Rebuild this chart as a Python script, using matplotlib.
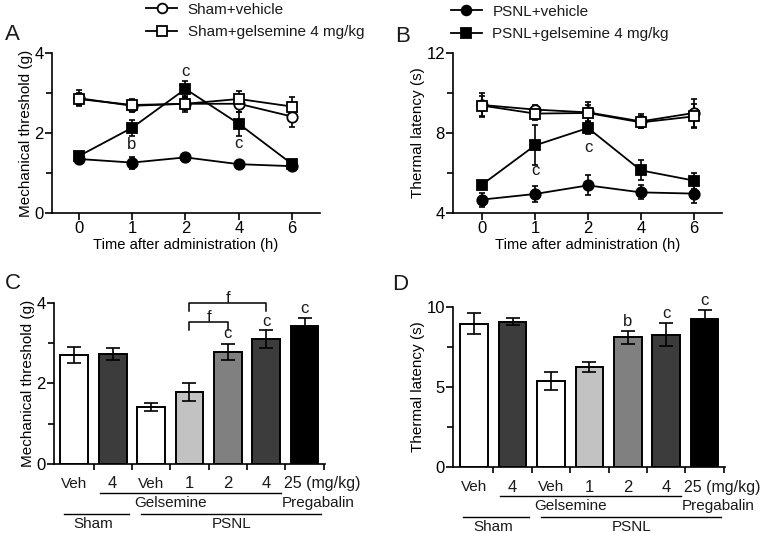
import numpy as np
import matplotlib.pyplot as plt
from matplotlib.lines import Line2D

plt.rcParams['font.family'] = ['Liberation Sans', 'DejaVu Sans']
plt.rcParams['text.color'] = '#1a1a1a'

# ---- time course data (panels A, B) ----
times = ['0', '1', '2', '4', '6']

mech_sham_veh = [2.87, 2.68, 2.73, 2.73, 2.41]
mech_sham_veh_err = [0.2, 0.15, 0.15, 0.2, 0.25]
mech_sham_gel = [2.85, 2.70, 2.73, 2.85, 2.66]
mech_sham_gel_err = [0.15, 0.15, 0.2, 0.2, 0.25]
mech_psnl_veh = [1.35, 1.26, 1.39, 1.22, 1.17]
mech_psnl_veh_err = [0.1, 0.15, 0.05, 0.05, 0.1]
mech_psnl_gel = [1.42, 2.13, 3.10, 2.23, 1.22]
mech_psnl_gel_err = [0.1, 0.2, 0.2, 0.3, 0.1]

therm_sham_veh = [9.40, 9.17, 9.03, 8.58, 9.00]
therm_sham_veh_err = [0.6, 0.25, 0.5, 0.35, 0.7]
therm_sham_gel = [9.37, 8.97, 9.00, 8.53, 8.83]
therm_sham_gel_err = [0.5, 0.3, 0.4, 0.3, 0.6]
therm_psnl_veh = [4.67, 4.95, 5.38, 5.03, 4.97]
therm_psnl_veh_err = [0.35, 0.4, 0.5, 0.35, 0.45]
therm_psnl_gel = [5.42, 7.38, 8.25, 6.13, 5.62]
therm_psnl_gel_err = [0.15, 1.0, 0.3, 0.5, 0.4]

# ---- bar data (panels C, D) ----
bar_labels = ['Veh', '4', 'Veh', '1', '2', '4']
bar_colors = ['white', '#3c3c3c', 'white', '#c2c2c2', '#808080', '#3c3c3c', 'black']
mech_bars = [2.70, 2.74, 1.41, 1.78, 2.78, 3.10, 3.44]
mech_bars_err = [0.2, 0.15, 0.1, 0.22, 0.2, 0.22, 0.18]
therm_bars = [8.96, 9.10, 5.39, 6.27, 8.11, 8.28, 9.23]
therm_bars_err = [0.65, 0.2, 0.55, 0.3, 0.4, 0.7, 0.6]

fig = plt.figure(figsize=(7.71, 5.33), dpi=100)

axA = fig.add_axes([0.0674, 0.6004, 0.3476, 0.3002])
axB = fig.add_axes([0.5875, 0.6004, 0.3489, 0.3002])
axC = fig.add_axes([0.0700, 0.1295, 0.3515, 0.3020])
axD = fig.add_axes([0.5875, 0.1238, 0.3528, 0.3000])

FS = 11      # axis labels / words
TS = 12      # tick labels / annotations


def style(ax):
    for s in ['top', 'right']:
        ax.spines[s].set_visible(False)
    for s in ['left', 'bottom']:
        ax.spines[s].set_linewidth(1.2)
    ax.tick_params(which='both', direction='out', width=1.2, labelsize=TS, pad=0.8)
    ax.tick_params(which='major', length=5)
    ax.tick_params(which='minor', length=4)


def line_panel(ax, series, ylim, yticks, yminor, ylabel):
    x = np.arange(len(times))
    for y, err, marker, face in series:
        ax.errorbar(x, y, yerr=err, fmt='-', color='black', lw=1.3, ecolor='black',
                    elinewidth=1.2, capsize=2.5, capthick=1.2, zorder=2)
        ax.plot(x, y, linestyle='none', marker=marker, markersize=7.5,
                markerfacecolor=face, markeredgecolor='black', markeredgewidth=1.3, zorder=3)
    ax.set_xticks(x)
    ax.set_xticklabels(times)
    ax.set_xlim(-0.5, 4.52)
    ax.set_ylim(*ylim)
    ax.set_yticks(yticks)
    ax.set_yticks(yminor, minor=True)
    ax.set_ylabel(ylabel, fontsize=FS, labelpad=1)
    ax.set_xlabel('Time after administration (h)', fontsize=10.6, labelpad=1.5)
    style(ax)


line_panel(axA, [(mech_sham_veh, mech_sham_veh_err, 'o', 'white'),
                 (mech_sham_gel, mech_sham_gel_err, 's', 'white'),
                 (mech_psnl_veh, mech_psnl_veh_err, 'o', 'black'),
                 (mech_psnl_gel, mech_psnl_gel_err, 's', 'black')],
           (0, 4), [0, 2, 4], [1, 3], 'Mechanical threshold (g)')
axA.text(1, 1.72, 'b', ha='center', va='center', fontsize=TS)
axA.text(2, 3.54, 'c', ha='center', va='center', fontsize=TS)
axA.text(3, 1.74, 'c', ha='center', va='center', fontsize=TS)

line_panel(axB, [(therm_sham_veh, therm_sham_veh_err, 'o', 'white'),
                 (therm_sham_gel, therm_sham_gel_err, 's', 'white'),
                 (therm_psnl_veh, therm_psnl_veh_err, 'o', 'black'),
                 (therm_psnl_gel, therm_psnl_gel_err, 's', 'black')],
           (4, 12), [4, 8, 12], [6, 10], 'Thermal latency (s)')
axB.set_xlim(-0.55, 4.53)
axB.text(1, 6.13, 'c', ha='center', va='center', fontsize=TS)
axB.text(2, 7.25, 'c', ha='center', va='center', fontsize=TS)


def proxy(marker, face):
    return Line2D([0], [0], color='black', lw=1.3, marker=marker, markersize=7,
                  markerfacecolor=face, markeredgecolor='black', markeredgewidth=1.3)


leg_kw = dict(loc='upper left', frameon=False, fontsize=11, handlelength=2.0,
              handletextpad=0.7, labelspacing=0.55, borderpad=0, borderaxespad=0)
fig.legend([proxy('o', 'white'), proxy('s', 'white')],
           ['Sham+vehicle', 'Sham+gelsemine 4 mg/kg'],
           bbox_to_anchor=(0.190, 0.995), **leg_kw)
fig.legend([proxy('o', 'black'), proxy('s', 'black')],
           ['PSNL+vehicle', 'PSNL+gelsemine 4 mg/kg'],
           bbox_to_anchor=(0.585, 0.991), **leg_kw)


def bar_panel(ax, vals, errs, ylim, yticks, yminor, ylabel):
    x = np.arange(len(vals))
    ax.bar(x, vals, width=0.72, color=bar_colors, edgecolor='black', linewidth=1.4, zorder=2)
    ax.errorbar(x, vals, yerr=errs, fmt='none', ecolor='black', elinewidth=1.2,
                capsize=5, capthick=1.2, zorder=3)
    ax.set_xlim(-0.53, 6.53)
    ax.set_ylim(*ylim)
    ax.set_yticks(yticks)
    ax.set_yticks(yminor, minor=True)
    ax.set_xticks([])
    ax.set_xticks(np.arange(0.5, 7, 1), minor=True)
    ax.set_xticklabels([], minor=True)
    ax.set_ylabel(ylabel, fontsize=FS, labelpad=1)
    style(ax)
    ax.tick_params(axis='x', which='minor', length=4)

    h = ax.get_position().height * fig.get_figheight() * fig.dpi
    tr = ax.get_xaxis_transform()

    def fy(px):
        return -px / h

    for i, lab in enumerate(bar_labels):
        ax.text(i, fy(20), lab, transform=tr, ha='center', va='center',
                fontsize=TS if lab.isdigit() else FS)
    ax.text(5.47, fy(20), '25 (mg/kg)', transform=tr, ha='left', va='center', fontsize=11.5)
    ax.plot([0.68, 5.38], [fy(29), fy(29)], transform=tr, color='black', lw=1.0, clip_on=False)
    ax.text(2.5, fy(39), 'Gelsemine', transform=tr, ha='center', va='center', fontsize=FS)
    ax.text(6.35, fy(39), 'Pregabalin', transform=tr, ha='center', va='center', fontsize=FS)
    ax.plot([-0.28, 1.42], [fy(50), fy(50)], transform=tr, color='black', lw=1.0, clip_on=False)
    ax.plot([1.73, 6.43], [fy(50), fy(50)], transform=tr, color='black', lw=1.0, clip_on=False)
    ax.text(0.5, fy(60), 'Sham', transform=tr, ha='center', va='center', fontsize=FS)
    ax.text(4.1, fy(60), 'PSNL', transform=tr, ha='center', va='center', fontsize=FS)


bar_panel(axC, mech_bars, mech_bars_err, (0, 4), [0, 2, 4], [1, 3], 'Mechanical threshold (g)')
for i, y in [(4, 3.25), (5, 3.55), (6, 3.86)]:
    axC.text(i, y, 'c', ha='center', va='center', fontsize=TS)
# significance brackets
axC.plot([3, 3, 4, 4], [3.34, 3.54, 3.54, 3.34], color='black', lw=1.1, clip_on=False)
axC.plot([3, 3, 5, 5], [3.79, 4.0, 4.0, 3.79], color='black', lw=1.1, clip_on=False)
axC.text(3.5, 3.65, 'f', ha='center', va='center', fontsize=TS)
axC.text(4.0, 4.11, 'f', ha='center', va='center', fontsize=TS)

bar_panel(axD, therm_bars, therm_bars_err, (0, 10), [0, 5, 10], [2.5, 7.5], 'Thermal latency (s)')
axD.set_xlim(-0.55, 6.53)
for i, y, s in [(4, 9.07, 'b'), (5, 9.63, 'c'), (6, 10.4, 'c')]:
    axD.text(i, y, s, ha='center', va='center', fontsize=TS, clip_on=False)

# panel letters
for x, y, s in [(0.006, 0.935, 'A'), (0.512, 0.932, 'B'), (0.006, 0.468, 'C'), (0.508, 0.466, 'D')]:
    fig.text(x, y, s, fontsize=16, ha='left', va='center')

fig.savefig('out.png', dpi=100)
